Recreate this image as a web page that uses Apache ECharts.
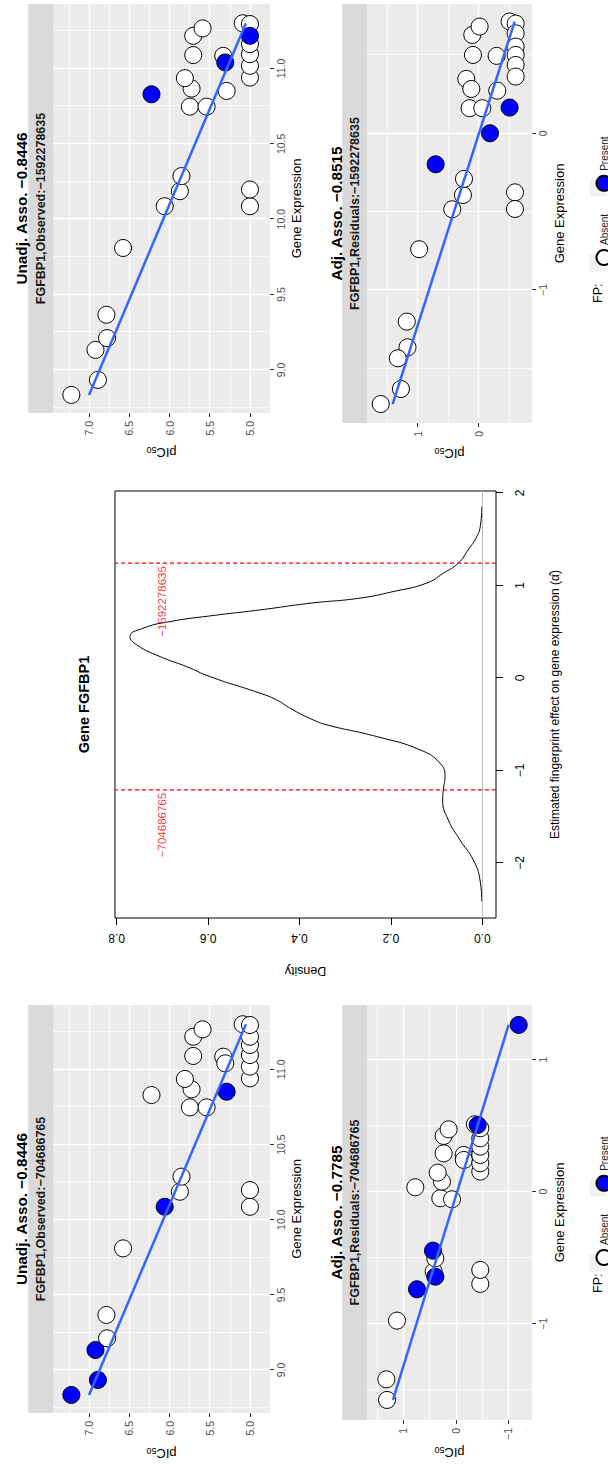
<!DOCTYPE html>
<html>
<head>
<meta charset="utf-8">
<title>Gene FGFBP1</title>
<script src="https://cdn.jsdelivr.net/npm/echarts@6.0.0/dist/echarts.min.js"></script>
<style>
  html, body { margin: 0; padding: 0; background: #ffffff; overflow: hidden; }
  body { width: 608px; height: 1467px; position: relative; }
  /* the figure is laid out landscape and turned a quarter turn onto the portrait page */
  #page {
    position: absolute; left: 0; top: 0;
    width: 1467px; height: 608px;
    transform-origin: 0 0;
    transform: translate(0, 1467px) rotate(-90deg);
  }
</style>
</head>
<body>
<div id="page"></div>
<script>
// ---------------- data ----------------
// compounds: gene expression and pIC50 (shared by both unadjusted panels)
const geneExpression = [8.834, 8.934, 9.133, 9.211, 9.366, 9.809, 10.086, 10.186, 10.286, 10.086,
  10.197, 10.829, 10.747, 10.747, 10.851, 10.867, 10.936, 11.089, 11.217, 11.266,
  11.084, 11.04, 11.30, 10.94, 11.018, 11.095, 11.162, 11.217, 11.295];
const pIC50 = [7.22, 6.89, 6.92, 6.776, 6.784, 6.577, 6.06, 5.871, 5.851, 5.0,
  5.0, 6.224, 5.747, 5.539, 5.29, 5.726, 5.809, 5.705, 5.705, 5.589,
  5.332, 5.307, 5.09, 5.0, 5.0, 5.0, 5.0, 5.0, 5.0];
// fingerprint presence (1 = present) per compound
const fp704686765 = [1, 1, 1, 0, 0, 0, 1, 0, 0, 0, 0, 0, 0, 0, 1, 0, 0, 0, 0, 0, 0, 0, 0, 0, 0, 0, 0, 0, 0];
const fp1592278635 = [0, 0, 0, 0, 0, 0, 0, 0, 0, 0, 0, 1, 0, 0, 0, 0, 0, 0, 0, 0, 0, 1, 0, 0, 0, 0, 0, 1, 0];

// residuals after adjusting for fingerprint -704686765
const residExpr704 = [-1.578, -1.422, -0.977, -0.606, -0.505, -0.699, -0.593, 0.033, -0.05, -0.058,
  0.076, 0.144, 0.29, 0.278, 0.24, 0.422, 0.472, 0.152, 0.215, 0.278,
  0.341, 0.404, 0.48, 0.51, -0.74, -0.644, -0.447, 0.505, 1.263];
const residPIC704 = [1.314, 1.327, 1.124, 0.425, 0.394, -0.463, -0.463, 0.775, 0.298, 0.076,
  0.267, 0.349, 0.235, -0.146, -0.15, 0.235, 0.14, -0.463, -0.463, -0.463,
  -0.463, -0.463, -0.463, -0.36, 0.743, 0.394, 0.438, -0.413, -1.194];
const residFP704 = [0, 0, 0, 0, 0, 0, 0, 0, 0, 0, 0, 0, 0, 0, 0, 0, 0, 0, 0, 0, 0, 0, 0, 0, 1, 1, 1, 1, 1];

// residuals after adjusting for fingerprint -1592278635
const residExpr159 = [-0.74, -1.202, -1.366, -1.436, -1.632, -1.728, -0.485, -0.394, -0.291, 0.16,
  0.16, 0.272, 0.347, 0.283, 0.5, 0.628, 0.681, 0.494, -0.377, -0.483,
  0.713, 0.70, 0.638, 0.553, 0.5, 0.436, 0.362, -0.198, 0.0, 0.164];
const residPIC159 = [0.975, 1.178, 1.166, 1.325, 1.274, 1.605, 0.432, 0.257, 0.24, 0.148,
  -0.06, -0.306, 0.202, 0.12, 0.093, 0.104, -0.016, -0.295, -0.596, -0.596,
  -0.508, -0.607, -0.607, -0.607, -0.607, -0.607, -0.607, 0.705, -0.186, -0.508];
const residFP159 = [0, 0, 0, 0, 0, 0, 0, 0, 0, 0, 0, 0, 0, 0, 0, 0, 0, 0, 0, 0, 0, 0, 0, 0, 0, 0, 0, 1, 1, 1];

// linear fits (end points)
const fitUnadjX = [8.834, 11.30];
const fitUnadjY = [7.0, 5.05];
const fitResid704X = [-1.578, 1.263];
const fitResid704Y = [1.2, -1.003];
const fitResid159X = [-1.728, 0.713];
const fitResid159Y = [1.41, -0.59];

// density of estimated fingerprint effects
const effectAlpha = [-2.418, -2.184, -1.968, -1.751, -1.535, -1.319, -1.20, -1.067, -0.922, -0.778,
  -0.634, -0.508, -0.454, -0.346, -0.238, -0.166, 0.014, 0.122, 0.23, 0.357,
  0.447, 0.537, 0.609, 0.67, 0.735, 0.807, 0.862, 0.933, 1.024, 1.132,
  1.24, 1.384, 1.528, 1.65, 1.852];
const effectDensity = [0.001, 0.005, 0.0197, 0.0488, 0.0744, 0.0867, 0.085, 0.0816, 0.0926, 0.136,
  0.231, 0.34, 0.37, 0.414, 0.45, 0.486, 0.596, 0.647, 0.705, 0.756,
  0.771, 0.742, 0.683, 0.596, 0.486, 0.377, 0.268, 0.195, 0.122, 0.085,
  0.0525, 0.031, 0.012, 0.004, 0.001];
const fingerprintNames = ['-704686765', '-1592278635'];
const fingerprintEffects = [-1.21, 1.24];
const fingerprintLabelDensity = 0.70;

// tick values
const unadjExprTicks = [9, 9.5, 10, 10.5, 11];
const unadjExprMinor = [8.75, 9.25, 9.75, 10.25, 10.75, 11.25];
const unadjPicTicks = [5, 5.5, 6, 6.5, 7];
const unadjPicMinor = [5.25, 5.75, 6.25, 6.75, 7.25];
const resid704ExprTicks = [-1, 0, 1];
const resid704ExprMinor = [-1.5, -0.5, 0.5];
const resid704PicTicks = [-1, 0, 1];
const resid704PicMinor = [-0.5, 0.5, 1.5];
const resid159ExprTicks = [-1, 0];
const resid159ExprMinor = [-1.5, -0.5, 0.5];
const resid159PicTicks = [0, 1];
const resid159PicMinor = [-0.5, 0.5, 1.5];
const alphaTicks = [-2, -1, 0, 1, 2];
const densityTicks = [0, 0.2, 0.4, 0.6, 0.8];

// ---------------- layout & helpers ----------------
const FONT = '"Liberation Sans", Arial, Helvetica, sans-serif';
const minus = s => String(s).replace('-', '\u2212');
const fmt1 = v => minus(v.toFixed(1));
const fmtInt = v => minus(Math.round(v));

const grids = [];
const xAxes = [];
const yAxes = [];
const series = [];
const graphics = [];

function addText(x, y, text, size, weight, color, align) {
  graphics.push({
    type: 'text', x: x, y: y, silent: true, z: 10,
    style: { text: text, fontSize: size, fontWeight: weight, fontFamily: FONT, fill: color,
      align: align || 'center', verticalAlign: 'middle' }
  });
}
function addRect(x, y, w, h, fill) {
  graphics.push({ type: 'rect', silent: true, z: 0, shape: { x: x, y: y, width: w, height: h }, style: { fill: fill } });
}

const pICName = {
  name: '{n|pIC}{s|50}',
  nameTextStyle: {
    rich: {
      n: { fontSize: 13, fontFamily: FONT, color: '#000000' },
      s: { fontSize: 9, fontFamily: FONT, color: '#000000', verticalAlign: 'bottom', padding: [5, 0, 0, 0] }
    }
  }
};

// one ggplot-style panel: grey panel, white major/minor grid, two value axes
function ggPanel(box, xr, yr, xTicks, xMinor, yTicks, yMinor, fmt, xGap, yGap) {
  const gi = grids.length;
  grids.push({ left: box[0], top: box[1], width: box[2], height: box[3], show: true,
    backgroundColor: '#EBEBEB', borderWidth: 0, containLabel: false, outerBoundsMode: 'none' });
  const xi = xAxes.length, yi = yAxes.length;
  const base = (range) => ({ type: 'value', gridIndex: gi, min: range[0], max: range[1], scale: true });
  xAxes.push(Object.assign(base(xr), {
    position: 'bottom',
    axisLine: { show: false, onZero: false },
    axisTick: { show: true, length: 4, customValues: xTicks, lineStyle: { color: '#333333', width: 1 } },
    axisLabel: { show: true, customValues: xTicks, formatter: fmt, color: '#4D4D4D', fontSize: 10.5, fontFamily: FONT, margin: 5 },
    splitLine: { show: true, lineStyle: { color: '#FFFFFF', width: 1.4 } },
    name: 'Gene Expression', nameLocation: 'middle', nameGap: xGap,
    nameTextStyle: { fontSize: 13, fontFamily: FONT, color: '#000000' }
  }));
  xAxes.push(Object.assign(base(xr), {
    position: 'top',
    axisLine: { show: false, onZero: false },
    axisTick: { show: false, customValues: xMinor },
    axisLabel: { show: false },
    splitLine: { show: true, lineStyle: { color: '#FFFFFF', width: 0.7 } }
  }));
  yAxes.push(Object.assign(base(yr), {
    position: 'left',
    axisLine: { show: false, onZero: false },
    axisTick: { show: true, length: 4, customValues: yTicks, lineStyle: { color: '#333333', width: 1 } },
    axisLabel: { show: true, customValues: yTicks, formatter: fmt, color: '#4D4D4D', fontSize: 10.5, fontFamily: FONT, margin: 8 },
    splitLine: { show: true, lineStyle: { color: '#FFFFFF', width: 1.4 } },
    nameLocation: 'middle', nameGap: yGap
  }, pICName));
  yAxes.push(Object.assign(base(yr), {
    position: 'right',
    axisLine: { show: false, onZero: false },
    axisTick: { show: false, customValues: yMinor },
    axisLabel: { show: false },
    splitLine: { show: true, lineStyle: { color: '#FFFFFF', width: 0.7 } }
  }));
  return { xi: xi, yi: yi };
}

function addPoints(ax, xs, ys, flags) {
  const pick = (f) => xs.map((x, i) => [x, ys[i]]).filter((_, i) => flags[i] === f);
  series.push({
    type: 'scatter', name: 'Absent', xAxisIndex: ax.xi, yAxisIndex: ax.yi, data: pick(0),
    symbol: 'circle', symbolSize: 17, silent: true, z: 3,
    itemStyle: { color: '#FFFFFF', borderColor: '#000000', borderWidth: 1, opacity: 1 }
  });
  series.push({
    type: 'scatter', name: 'Present', xAxisIndex: ax.xi, yAxisIndex: ax.yi, data: pick(1),
    symbol: 'circle', symbolSize: 17, silent: true, z: 3,
    itemStyle: { color: '#0000FF', borderColor: '#000000', borderWidth: 1, opacity: 1 }
  });
}
function addFit(ax, fx, fy) {
  series.push({
    type: 'line', xAxisIndex: ax.xi, yAxisIndex: ax.yi, data: fx.map((x, i) => [x, fy[i]]),
    symbol: 'none', silent: true, z: 4, lineStyle: { color: '#3366FF', width: 2.5 }
  });
}

// ---------------- left column: fingerprint -704686765 ----------------
const unadjXR = [8.714, 11.428], unadjYR = [4.751, 7.448];
const pLT = ggPanel([54, 53, 408, 217], unadjXR, unadjYR, unadjExprTicks, unadjExprMinor, unadjPicTicks, unadjPicMinor, fmt1, 20, 33);
addPoints(pLT, geneExpression, pIC50, fp704686765);
addFit(pLT, fitUnadjX, fitUnadjY);
addText(258, 21, 'Unadj. Asso. \u22120.8446', 15.3, 'bold', '#000000');
addRect(54, 28.3, 408, 25, '#D9D9D9');
addText(258, 41, 'FGFBP1,Observed:' + minus(fingerprintNames[0]), 12.5, 'bold', '#1A1A1A');

const pLB = ggPanel([47, 367, 415, 165], [-1.73, 1.414], [-1.448, 1.695], resid704ExprTicks, resid704ExprMinor, resid704PicTicks, resid704PicMinor, fmtInt, 21, 25);
addPoints(pLB, residExpr704, residPIC704, residFP704);
addFit(pLB, fitResid704X, fitResid704Y);
addText(254.5, 336, 'Adj. Asso. \u22120.7785', 15.3, 'bold', '#000000');
addRect(47, 342.3, 415, 24.7, '#D9D9D9');
addText(254.5, 354.8, 'FGFBP1,Residuals:' + minus(fingerprintNames[0]), 12.5, 'bold', '#1A1A1A');

// ---------------- right column: fingerprint -1592278635 ----------------
const pRT = ggPanel([1054, 53, 409, 217], unadjXR, unadjYR, unadjExprTicks, unadjExprMinor, unadjPicTicks, unadjPicMinor, fmt1, 20, 32);
addPoints(pRT, geneExpression, pIC50, fp1592278635);
addFit(pRT, fitUnadjX, fitUnadjY);
addText(1258.5, 21, 'Unadj. Asso. \u22120.8446', 15.3, 'bold', '#000000');
addRect(1054, 28.3, 409, 25, '#D9D9D9');
addText(1258.5, 41, 'FGFBP1,Observed:' + minus(fingerprintNames[1]), 12.5, 'bold', '#1A1A1A');

const pRB = ggPanel([1044, 367, 419, 165], [-1.849, 0.825], [-0.875, 1.83], resid159ExprTicks, resid159ExprMinor, resid159PicTicks, resid159PicMinor, fmtInt, 21, 23);
addPoints(pRB, residExpr159, residPIC159, residFP159);
addFit(pRB, fitResid159X, fitResid159Y);
addText(1253.5, 336, 'Adj. Asso. \u22120.8515', 15.3, 'bold', '#000000');
addRect(1044, 342.3, 419, 24.7, '#D9D9D9');
addText(1253.5, 354.8, 'FGFBP1,Residuals:' + minus(fingerprintNames[1]), 12.5, 'bold', '#1A1A1A');

// legends: "FP:" title and grey key backgrounds
const LEGEND_MID = 598;
[[174, 204, 279], [1164, 1204, 1279]].forEach(function (p) {
  addText(p[0], LEGEND_MID, 'FP:', 12.5, 'normal', '#000000', 'left');
  addRect(p[1] - 8.6, LEGEND_MID - 8.6, 17.2, 17.2, '#F2F2F2');
  addRect(p[2] - 8.6, LEGEND_MID - 8.6, 17.2, 17.2, '#F2F2F2');
});

// ---------------- middle: density of fingerprint effects ----------------
const densityYR = [-0.030, 0.8037];
const dGi = grids.length;
grids.push({ left: 549, top: 115, width: 427, height: 381, show: true, backgroundColor: 'transparent',
  borderColor: '#000000', borderWidth: 1, containLabel: false, outerBoundsMode: 'none' });
const dXi = xAxes.length, dYi = yAxes.length;
xAxes.push({
  type: 'value', gridIndex: dGi, min: -2.595, max: 2.02, position: 'bottom',
  axisLine: { show: false, onZero: false },
  axisTick: { show: true, length: 7, customValues: alphaTicks, lineStyle: { color: '#000000', width: 1 } },
  axisLabel: { show: true, customValues: alphaTicks, formatter: fmtInt, color: '#000000', fontSize: 12, fontFamily: FONT, margin: 18 },
  splitLine: { show: false },
  name: 'Estimated fingerprint effect on gene expression (\u03B1\u0302)', nameLocation: 'middle', nameGap: 53,
  nameTextStyle: { fontSize: 12, fontFamily: FONT, color: '#000000' }
});
yAxes.push({
  type: 'value', gridIndex: dGi, min: densityYR[0], max: densityYR[1], position: 'left',
  axisLine: { show: false, onZero: false },
  axisTick: { show: true, length: 7, customValues: densityTicks, lineStyle: { color: '#000000', width: 1 } },
  axisLabel: { show: true, customValues: densityTicks, formatter: fmt1, rotate: 90, color: '#000000', fontSize: 12, fontFamily: FONT, margin: 14 },
  splitLine: { show: false },
  name: 'Density', nameLocation: 'middle', nameGap: 46,
  nameTextStyle: { fontSize: 12.5, fontFamily: FONT, color: '#000000' }
});
// density curve with its zero line
series.push({
  type: 'line', xAxisIndex: dXi, yAxisIndex: dYi,
  data: effectAlpha.map((a, i) => [a, effectDensity[i]]),
  symbol: 'none', smooth: 0.5, silent: true, z: 3,
  lineStyle: { color: '#000000', width: 1 },
  markLine: {
    silent: true, symbol: ['none', 'none'], animation: false, label: { show: false },
    lineStyle: { color: '#BEBEBE', width: 1, type: 'solid' },
    data: [{ yAxis: 0 }]
  }
});
// fingerprint effects: dashed red guides spanning the panel
fingerprintEffects.forEach(function (a) {
  series.push({
    type: 'line', xAxisIndex: dXi, yAxisIndex: dYi,
    data: [[a, densityYR[0]], [a, densityYR[1]]],
    symbol: 'none', silent: true, z: 4,
    lineStyle: { color: '#FF0000', width: 1.3, type: [4, 3] }
  });
});
// ...and their names
series.push({
  type: 'scatter', xAxisIndex: dXi, yAxisIndex: dYi,
  data: fingerprintEffects.map((a, i) => ({ value: [a, fingerprintLabelDensity], name: fingerprintNames[i] })),
  symbol: 'circle', symbolSize: 2, silent: true, z: 5,
  itemStyle: { color: 'rgba(0,0,0,0)', borderWidth: 0 },
  label: { show: true, position: 'left', distance: 2, formatter: p => minus(p.name),
    color: '#FF0000', fontSize: 11.5, fontFamily: FONT }
});
addText(762.5, 84, 'Gene FGFBP1', 14.5, 'bold', '#000000');

// ---------------- chart ----------------
const legendBase = {
  top: LEGEND_MID - 7.5, orient: 'horizontal', icon: 'circle', itemWidth: 15, itemHeight: 15, itemGap: 22,
  selectedMode: false, data: ['Absent', 'Present'],
  textStyle: { fontSize: 10, lineHeight: 10, fontFamily: FONT, color: '#1A1A1A' }
};

const chart = echarts.init(document.getElementById('page'), null, { renderer: 'svg', width: 1467, height: 608 });
chart.setOption({
  animation: false,
  backgroundColor: '#FFFFFF',
  textStyle: { fontFamily: FONT },
  grid: grids,
  xAxis: xAxes,
  yAxis: yAxes,
  legend: [Object.assign({ left: 196 }, legendBase), Object.assign({ left: 1196 }, legendBase)],
  series: series,
  graphic: { elements: graphics }
});
</script>
</body>
</html>
